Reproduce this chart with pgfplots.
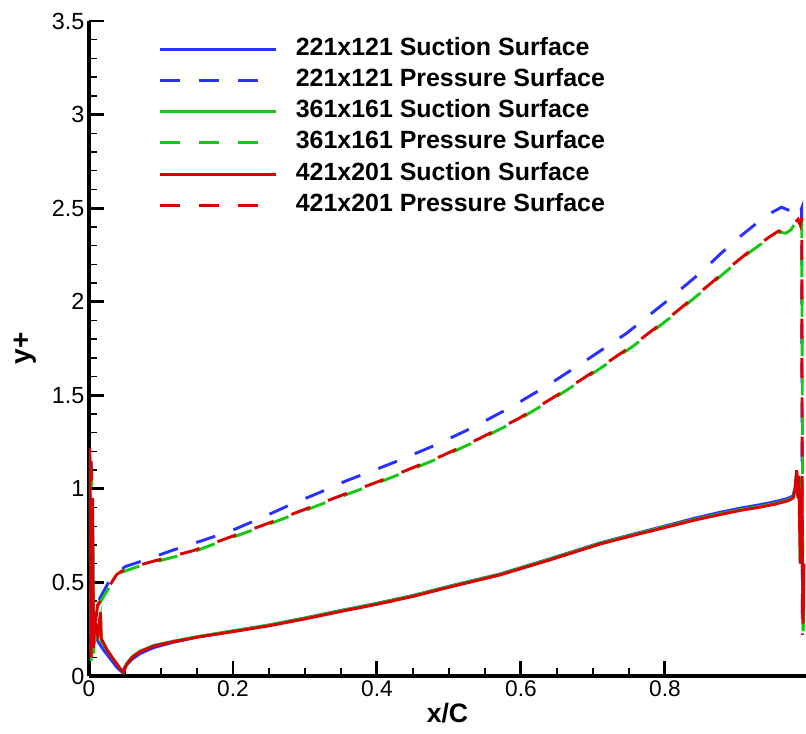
\documentclass[border=0pt]{standalone}
\usepackage{fontspec}
\setmainfont{Liberation Sans}
\usepackage{pgfplots}
\pgfplotsset{compat=1.18}
\definecolor{tpblue}{RGB}{40,50,255}
\definecolor{tpgreen}{RGB}{20,200,20}
\definecolor{tpred}{RGB}{220,0,0}
\begin{document}
\begin{tikzpicture}
\begin{axis}[
  scale only axis, width=537.75pt, height=491.25pt,
  xmin=0, xmax=0.996, ymin=0, ymax=3.5,
  axis x line=bottom, axis y line=left,
  axis line style={-, line width=2.6pt, black},
  xtick={0,0.2,0.4,0.6,0.8}, minor x tick num=3,
  ytick={0,0.5,1,1.5,2,2.5,3,3.5}, minor y tick num=4,
  tick align=inside, major tick length=11pt, minor tick length=6pt,
  every tick/.style={black},
  major tick style={line width=2.2pt}, minor tick style={line width=1pt},
  /pgf/number format/assume math mode=true,
  xticklabel style={font=\fontsize{17}{17}\selectfont},
  yticklabel style={font=\fontsize{17.5}{17.5}\selectfont},
  xlabel={x/C}, ylabel={y+},
  every axis x label/.style={font=\bfseries\fontsize{20}{20}\selectfont, at={(rel axis cs:0.5,0)}, anchor=center, yshift=-27.75pt},
  every axis y label/.style={font=\bfseries\fontsize{21}{21}\selectfont, at={(rel axis cs:0,0.5)}, xshift=-48pt, rotate=90, anchor=center},
  legend style={at={(rel axis cs:0.0962,0.9745)}, anchor=north west, draw=none, fill=none,
    font=\bfseries\fontsize{18.7}{20}\selectfont, inner sep=0pt, row sep=6.4pt, column sep=14pt,
    nodes={inner sep=0pt, text height=13pt, text depth=4pt}},
  legend cell align=left,
  legend image code/.code={\draw[#1] (0pt,0pt) -- (87pt,0pt);},
  every axis plot/.append style={line width=2.2pt},
]
\coordinate (O) at (rel axis cs:0,0);
\coordinate (T) at (rel axis cs:1,1);
% 221x121 suction
\addplot[tpblue, solid] coordinates {
(0.001,1.15)(0.003,0.12)(0.005,0.80)(0.006,0.20)(0.010,0.20)(0.020,0.14)(0.030,0.09)(0.038,0.05)(0.046,0.02)(0.050,0.05)(0.060,0.09)(0.071,0.12)(0.090,0.152)(0.117,0.180)(0.150,0.208)(0.200,0.240)(0.250,0.272)(0.300,0.310)(0.350,0.350)(0.400,0.388)(0.450,0.430)(0.501,0.480)(0.571,0.545)(0.640,0.626)(0.710,0.711)(0.760,0.762)(0.802,0.803)(0.840,0.842)(0.876,0.874)(0.905,0.897)(0.932,0.915)(0.955,0.933)(0.970,0.948)(0.978,0.962)(0.981,1.01)(0.983,1.08)(0.985,0.96)(0.987,1.05)(0.989,0.65)(0.990,0.95)(0.992,0.30)
};
\addlegendentry{221x121 Suction Surface}
% 221x121 pressure
\addplot[tpblue, dash pattern=on 15pt off 14.5pt] coordinates {
(0.003,1.14)(0.005,0.25)(0.008,0.33)(0.015,0.415)(0.029,0.513)(0.050,0.584)(0.075,0.616)(0.117,0.673)(0.160,0.727)(0.200,0.780)(0.240,0.846)(0.279,0.914)(0.320,0.980)(0.358,1.044)(0.395,1.098)(0.432,1.154)(0.480,1.232)(0.531,1.324)(0.585,1.434)(0.638,1.555)(0.690,1.685)(0.747,1.832)(0.800,1.995)(0.851,2.160)(0.877,2.255)(0.905,2.350)(0.931,2.430)(0.950,2.480)(0.962,2.505)(0.971,2.490)(0.978,2.500)(0.983,2.520)(0.988,2.48)(0.990,2.50)(0.991,0.25)
};
\addlegendentry{221x121 Pressure Surface}
% 361x161 suction
\addplot[tpgreen, solid] coordinates {
(0.001,1.18)(0.003,0.08)(0.005,0.90)(0.006,0.12)(0.008,0.28)(0.012,0.21)(0.016,0.30)(0.017,0.19)(0.025,0.14)(0.032,0.10)(0.038,0.068)(0.044,0.035)(0.048,0.02)(0.052,0.065)(0.060,0.103)(0.071,0.133)(0.090,0.163)(0.117,0.186)(0.150,0.210)(0.200,0.241)(0.250,0.272)(0.300,0.309)(0.350,0.349)(0.400,0.387)(0.450,0.429)(0.501,0.479)(0.571,0.544)(0.640,0.624)(0.710,0.709)(0.760,0.759)(0.802,0.799)(0.840,0.836)(0.876,0.866)(0.905,0.889)(0.932,0.906)(0.955,0.924)(0.970,0.939)(0.978,0.955)(0.981,1.00)(0.983,1.09)(0.985,0.95)(0.987,1.06)(0.988,0.6)(0.990,0.98)(0.992,0.25)
};
\addlegendentry{361x161 Suction Surface}
% 361x161 pressure
\addplot[tpgreen, dash pattern=on 15pt off 14.5pt] coordinates {
(0.003,1.12)(0.006,0.12)(0.012,0.37)(0.022,0.436)(0.038,0.534)(0.045,0.554)(0.066,0.582)(0.092,0.610)(0.117,0.635)(0.145,0.664)(0.200,0.742)(0.240,0.797)(0.279,0.854)(0.320,0.914)(0.358,0.970)(0.400,1.030)(0.4365,1.086)(0.490,1.170)(0.543,1.264)(0.597,1.370)(0.650,1.494)(0.703,1.625)(0.756,1.763)(0.810,1.922)(0.8625,2.088)(0.8925,2.186)(0.917,2.262)(0.9435,2.336)(0.958,2.372)(0.968,2.366)(0.975,2.384)(0.981,2.418)(0.985,2.434)(0.988,2.40)(0.990,2.44)(0.992,0.18)
};
\addlegendentry{361x161 Pressure Surface}
% 421x201 suction
\addplot[tpred, solid] coordinates {
(0.001,1.22)(0.003,0.10)(0.005,0.95)(0.006,0.15)(0.008,0.30)(0.012,0.22)(0.016,0.34)(0.017,0.20)(0.025,0.14)(0.032,0.10)(0.038,0.068)(0.044,0.035)(0.048,0.02)(0.052,0.06)(0.060,0.10)(0.071,0.13)(0.090,0.16)(0.117,0.183)(0.150,0.207)(0.200,0.237)(0.250,0.268)(0.300,0.305)(0.350,0.345)(0.400,0.383)(0.450,0.425)(0.501,0.475)(0.571,0.540)(0.640,0.620)(0.710,0.705)(0.760,0.755)(0.802,0.795)(0.840,0.832)(0.876,0.862)(0.905,0.885)(0.932,0.902)(0.955,0.920)(0.970,0.935)(0.978,0.950)(0.981,1.00)(0.983,1.10)(0.985,0.95)(0.986,1.07)(0.988,0.60)(0.990,1.00)(0.992,0.28)(0.993,0.60)
};
\addlegendentry{421x201 Suction Surface}
% 421x201 pressure
\addplot[tpred, dash pattern=on 15pt off 14.5pt] coordinates {
(0.003,1.15)(0.006,0.20)(0.012,0.38)(0.022,0.442)(0.038,0.540)(0.045,0.560)(0.066,0.588)(0.092,0.616)(0.117,0.641)(0.145,0.670)(0.200,0.748)(0.240,0.803)(0.279,0.860)(0.320,0.920)(0.358,0.976)(0.400,1.036)(0.4365,1.092)(0.490,1.176)(0.543,1.270)(0.597,1.376)(0.650,1.500)(0.703,1.631)(0.756,1.769)(0.810,1.928)(0.8625,2.094)(0.8925,2.192)(0.917,2.268)(0.9435,2.342)(0.958,2.378)(0.968,2.372)(0.975,2.390)(0.981,2.424)(0.985,2.440)(0.988,2.41)(0.990,2.45)(0.991,0.22)
};
\addlegendentry{421x201 Pressure Surface}
\end{axis}
\pgfresetboundingbox
\path[use as bounding box] ([shift={(-66.75pt,-43.5pt)}]O) rectangle ([shift={(0pt,15.75pt)}]T);
\end{tikzpicture}
\end{document}
